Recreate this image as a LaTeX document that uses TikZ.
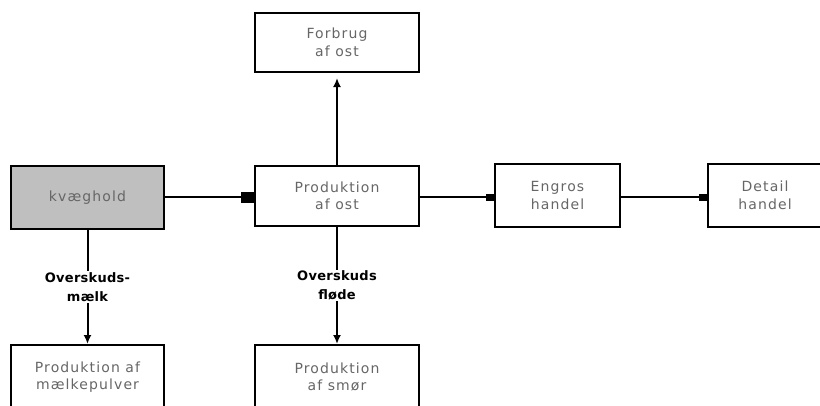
\documentclass[tikz,border=0pt]{standalone}
\usepackage{fontspec}
\setmainfont{DejaVu Sans}
\newfontfamily\boxfont[LetterSpace=8]{DejaVu Sans}
\newfontfamily\lblfont[LetterSpace=2]{DejaVu Sans}
\usetikzlibrary{arrows.meta}
\begin{document}
\begin{tikzpicture}[x=1pt,y=-1pt,
  box/.style={draw=black,line width=2pt,align=center,text=black!60,
    font=\boxfont\fontsize{14}{17.5}\selectfont,inner sep=0pt},
  lbl/.style={fill=white,align=center,font=\lblfont\bfseries\fontsize{13}{19.5}\selectfont,inner sep=1pt},
  conn/.style={line width=2pt},
  sq/.style={conn,-{Square[length=8pt,width=7pt]}},
  bigsq/.style={conn,-{Square[length=13pt,width=11pt]}},
  tri/.style={conn,-{Latex[length=9pt,width=8pt]}}]
\clip (0,0) rectangle (820,405);
\useasboundingbox (0,0) rectangle (820,405);
\node[box,minimum width=164pt,minimum height=59pt] (forbrug) at (337,42.5) {Forbrug\\af ost};
\node[box,fill=black!25,minimum width=153pt,minimum height=63pt] (kvaeg) at (87.5,197.5) {kvæghold};
\node[box,minimum width=164pt,minimum height=60pt] (prodost) at (337,196) {Produktion\\af ost};
\node[box,minimum width=125pt,minimum height=63pt] (engros) at (557.5,195.5) {Engros\\handel};
\node[box,minimum width=114pt,minimum height=63pt] (detail) at (765,195.5) {Detail\\handel};
\node[box,minimum width=153pt,minimum height=64pt] (maelk) at (87.5,377) {Produktion af\\mælkepulver};
\node[box,minimum width=164pt,minimum height=64pt] (smor) at (337,377) {Produktion\\af smør};
\coordinate (k1) at (kvaeg.east |- 0,197);
\draw[bigsq] (k1) -- (k1 -| prodost.west);
\coordinate (p1) at (prodost.east |- 0,197);
\draw[sq] (p1) -- (p1 -| engros.west);
\coordinate (e1) at (engros.east |- 0,197);
\draw[sq] (e1) -- (e1 -| detail.west);
\draw[tri,shorten >=5pt] (prodost.north) -- (forbrug.south);
\draw[tri] (kvaeg.south) -- (maelk.north) node[lbl,midway] {Overskuds-\\mælk};
\draw[tri] (prodost.south) -- (smor.north) node[lbl,midway] {Overskuds\\fløde};
\end{tikzpicture}
\end{document}
